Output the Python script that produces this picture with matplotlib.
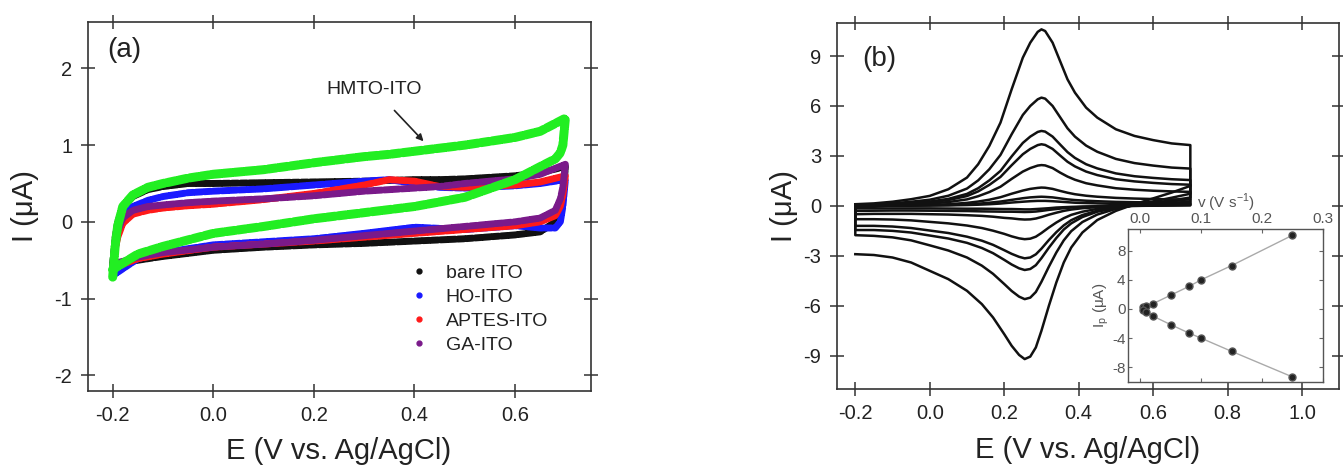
import numpy as np
import matplotlib.pyplot as plt
from matplotlib.lines import Line2D

plt.rcParams['font.family'] = ['Liberation Sans', 'DejaVu Sans']

# ---- panel (a): background CVs of the modified electrodes ----
E_up = [-0.20, -0.195, -0.19, -0.18, -0.16, -0.13, -0.10, -0.05, 0.00, 0.10,
        0.20, 0.30, 0.35, 0.40, 0.45, 0.50, 0.60, 0.65, 0.70]
E_dn = [0.70, 0.695, 0.69, 0.68, 0.65, 0.60, 0.50, 0.40, 0.30, 0.20, 0.10,
        0.00, -0.10, -0.15, -0.20]

bare_up = [-0.55, -0.2, 0.0, 0.18, 0.33, 0.42, 0.46, 0.5, 0.5, 0.51, 0.52, 0.53,
           0.54, 0.55, 0.55, 0.56, 0.6, 0.64, 0.72]
bare_dn = [0.72, 0.3, 0.1, 0.0, -0.13, -0.17, -0.22, -0.25, -0.28, -0.3, -0.33,
           -0.37, -0.45, -0.5, -0.55]
ho_up = [-0.7, -0.35, -0.15, 0.05, 0.2, 0.28, 0.33, 0.38, 0.4, 0.43, 0.48, 0.53,
         0.55, 0.5, 0.45, 0.44, 0.47, 0.5, 0.55]
ho_dn = [0.55, 0.2, 0.0, -0.08, -0.08, -0.05, -0.1, -0.07, -0.15, -0.22, -0.26,
         -0.3, -0.4, -0.48, -0.7]
aptes_up = [-0.6, -0.35, -0.2, -0.02, 0.1, 0.15, 0.18, 0.21, 0.23, 0.29, 0.37,
            0.48, 0.55, 0.53, 0.46, 0.45, 0.48, 0.52, 0.6]
aptes_dn = [0.6, 0.35, 0.2, 0.08, 0.0, -0.05, -0.1, -0.15, -0.2, -0.25, -0.29,
            -0.33, -0.42, -0.48, -0.6]
ga_up = [-0.55, -0.3, -0.12, 0.05, 0.15, 0.2, 0.22, 0.25, 0.27, 0.3, 0.34, 0.4,
         0.42, 0.44, 0.46, 0.5, 0.56, 0.62, 0.75]
ga_dn = [0.75, 0.45, 0.3, 0.15, 0.05, 0.0, -0.06, -0.12, -0.18, -0.24, -0.29,
         -0.33, -0.4, -0.46, -0.55]
hmto_up = [-0.72, -0.3, -0.05, 0.2, 0.35, 0.45, 0.5, 0.57, 0.62, 0.68, 0.77,
           0.85, 0.88, 0.92, 0.96, 1.0, 1.1, 1.18, 1.35]
hmto_dn = [1.35, 1.0, 0.9, 0.82, 0.72, 0.55, 0.32, 0.2, 0.12, 0.04, -0.06,
           -0.15, -0.32, -0.42, -0.62]

labels_a = ['bare ITO', 'HO-ITO', 'APTES-ITO', 'GA-ITO']
colors_a = ['#111111', '#1a1aff', '#ff1a1a', '#7a1a8a']
hmto_color = '#22ee22'

# ---- panel (b): CVs at increasing scan rate ----
E_f = [-0.20, -0.15, -0.10, -0.05, 0.00, 0.05, 0.10, 0.13, 0.16, 0.19, 0.22,
       0.25, 0.27, 0.29, 0.30, 0.31, 0.33, 0.35, 0.37, 0.39, 0.42, 0.45, 0.50,
       0.55, 0.60, 0.65, 0.70]
E_r = [-0.20, -0.15, -0.10, -0.05, 0.00, 0.05, 0.10, 0.14, 0.17, 0.20, 0.22,
       0.24, 0.255, 0.27, 0.285, 0.30, 0.32, 0.34, 0.36, 0.38, 0.41, 0.45, 0.50,
       0.55, 0.60, 0.65, 0.70]

# anodic (forward) branches, fastest scan first
I_f = [
    [0.1, 0.15, 0.25, 0.4, 0.6, 1.0, 1.7, 2.5, 3.6, 5.0, 7.0, 8.9, 9.8, 10.45,
     10.6, 10.5, 9.8, 8.7, 7.6, 6.8, 5.9, 5.3, 4.6, 4.2, 3.95, 3.75, 3.65],
    [0.06, 0.09, 0.15, 0.25, 0.37, 0.61, 1.04, 1.53, 2.2, 3.06, 4.3, 5.46, 6.0,
     6.4, 6.5, 6.44, 6.0, 5.33, 4.66, 4.16, 3.62, 3.25, 2.82, 2.57, 2.42, 2.3,
     2.24],
    [0.05, 0.06, 0.11, 0.17, 0.26, 0.42, 0.72, 1.06, 1.53, 2.1, 2.97, 3.78, 4.16,
     4.44, 4.5, 4.46, 4.16, 3.69, 3.23, 2.88, 2.5, 2.25, 1.95, 1.78, 1.68, 1.6,
     1.55],
    [0.04, 0.05, 0.09, 0.14, 0.21, 0.35, 0.59, 0.87, 1.26, 1.74, 2.44, 3.1, 3.42,
     3.65, 3.7, 3.66, 3.42, 3.03, 2.65, 2.37, 2.06, 1.85, 1.6, 1.47, 1.38, 1.31,
     1.27],
    [0.02, 0.03, 0.06, 0.09, 0.14, 0.23, 0.39, 0.58, 0.83, 1.15, 1.62, 2.06, 2.27,
     2.42, 2.45, 2.43, 2.27, 2.0, 1.76, 1.57, 1.36, 1.23, 1.06, 0.97, 0.91, 0.87,
     0.84],
    [0.01, 0.02, 0.03, 0.04, 0.06, 0.1, 0.18, 0.26, 0.37, 0.52, 0.73, 0.92, 1.02,
     1.08, 1.1, 1.09, 1.02, 0.9, 0.79, 0.7, 0.61, 0.55, 0.48, 0.44, 0.41, 0.39,
     0.38],
    [0.0, 0.01, 0.01, 0.02, 0.03, 0.05, 0.09, 0.13, 0.19, 0.26, 0.36, 0.46, 0.51,
     0.54, 0.55, 0.54, 0.51, 0.45, 0.39, 0.35, 0.31, 0.28, 0.24, 0.22, 0.21, 0.2,
     0.19],
    [0.0, 0.0, 0.01, 0.01, 0.02, 0.03, 0.05, 0.07, 0.1, 0.14, 0.2, 0.25, 0.28,
     0.3, 0.3, 0.3, 0.28, 0.25, 0.22, 0.19, 0.17, 0.15, 0.13, 0.12, 0.11, 0.11,
     0.1],
]
# cathodic (reverse) branches, listed from -0.2 V upwards
I_r = [
    [-2.9, -2.95, -3.1, -3.4, -3.9, -4.4, -5.1, -5.9, -6.7, -7.7, -8.4, -8.95,
     -9.2, -9.05, -8.5, -7.5, -6.0, -4.6, -3.4, -2.5, -1.6, -0.85, -0.3, 0.1,
     0.45, 0.8, 1.2],
    [-1.76, -1.8, -1.89, -2.07, -2.37, -2.68, -3.1, -3.59, -4.08, -4.69, -5.11,
     -5.45, -5.6, -5.51, -5.17, -4.56, -3.65, -2.8, -2.07, -1.52, -0.97, -0.52,
     -0.18, 0.06, 0.27, 0.49, 0.73],
    [-1.45, -1.45, -1.5, -1.6, -1.78, -1.96, -2.22, -2.53, -2.84, -3.24, -3.52,
     -3.75, -3.85, -3.79, -3.56, -3.14, -2.51, -1.93, -1.42, -1.05, -0.67, -0.35,
     -0.13, 0.04, 0.19, 0.33, 0.5],
    [-1.2, -1.2, -1.24, -1.33, -1.48, -1.63, -1.85, -2.09, -2.34, -2.66, -2.88,
     -3.06, -3.15, -3.1, -2.91, -2.57, -2.05, -1.58, -1.17, -0.86, -0.55, -0.29,
     -0.1, 0.03, 0.15, 0.27, 0.41],
    [-0.8, -0.8, -0.82, -0.87, -0.96, -1.05, -1.18, -1.33, -1.49, -1.68, -1.83,
     -1.95, -2.0, -1.97, -1.85, -1.63, -1.3, -1.0, -0.74, -0.54, -0.35, -0.18,
     -0.07, 0.02, 0.1, 0.17, 0.26],
    [-0.5, -0.48, -0.48, -0.48, -0.5, -0.52, -0.56, -0.6, -0.65, -0.72, -0.75,
     -0.8, -0.82, -0.81, -0.76, -0.67, -0.53, -0.41, -0.3, -0.22, -0.14, -0.08,
     -0.03, 0.01, 0.04, 0.07, 0.11],
    [-0.3, -0.29, -0.28, -0.28, -0.29, -0.3, -0.31, -0.33, -0.34, -0.35, -0.35,
     -0.36, -0.37, -0.36, -0.34, -0.3, -0.24, -0.19, -0.14, -0.1, -0.06, -0.03,
     -0.01, 0.0, 0.02, 0.03, 0.05],
    [-0.15, -0.15, -0.15, -0.15, -0.15, -0.16, -0.17, -0.17, -0.18, -0.19, -0.19,
     -0.2, -0.21, -0.21, -0.19, -0.17, -0.14, -0.1, -0.08, -0.06, -0.04, -0.02,
     -0.01, 0.0, 0.01, 0.02, 0.03],
]

# inset: peak currents vs scan rate
scan_rate = [0.005, 0.01, 0.02, 0.05, 0.08, 0.10, 0.15, 0.25]
ipa = [0.3, 0.45, 0.7, 1.9, 3.1, 4.0, 5.95, 10.1]
ipc = [-0.2, -0.35, -0.95, -2.15, -3.3, -4.0, -5.8, -9.3]

text_col = '#222222'
frame_col = '#333333'


def style_axes(ax):
    for sp in ax.spines.values():
        sp.set_color(frame_col)
        sp.set_linewidth(1.2)
    ax.tick_params(which='major', direction='inout', length=10, width=1.1,
                   top=True, right=True, labelsize=14.5, colors=frame_col,
                   labelcolor=text_col, pad=6)


fig = plt.figure(figsize=(13.43, 4.66), dpi=100)

# panel (a)
ax1 = fig.add_axes([0.0652, 0.1616, 0.3745, 0.7905])
ups = [bare_up, ho_up, aptes_up, ga_up]
dns = [bare_dn, ho_dn, aptes_dn, ga_dn]
for up, dn, c in zip(ups, dns, colors_a):
    ax1.plot(E_up + E_dn, up + dn, color=c, lw=5, ls=(0, (0.9, 0.35)),
             dash_capstyle='round')
ax1.plot(E_up + E_dn, hmto_up + hmto_dn, color=hmto_color, lw=6.5,
         ls=(0, (0.9, 0.35)), dash_capstyle='round')
ax1.set_xlim(-0.25, 0.75)
ax1.set_ylim(-2.2, 2.6)
ax1.set_xticks([-0.2, 0.0, 0.2, 0.4, 0.6])
ax1.set_xticklabels(['-0.2', '0.0', '0.2', '0.4', '0.6'])
ax1.set_yticks([-2, -1, 0, 1, 2])
ax1.set_yticklabels(['-2', '-1', '0', '1', '2'])
style_axes(ax1)
ax1.set_xlabel('E (V vs. Ag/AgCl)', fontsize=21, color=text_col, labelpad=9)
ax1.set_ylabel('I (μA)', fontsize=21, color=text_col, labelpad=11)
ax1.text(0.04, 0.925, '(a)', transform=ax1.transAxes, fontsize=20,
         color=text_col, va='center')
ax1.annotate('HMTO-ITO', xy=(0.418, 1.05), xytext=(0.32, 1.73),
             fontsize=14, color=text_col, ha='center', va='center',
             arrowprops=dict(arrowstyle='-|>', color=text_col, lw=1.2,
                             shrinkA=10, shrinkB=0, mutation_scale=10))
handles = [Line2D([], [], marker='o', ls='none', ms=3.5, color=c)
           for c in colors_a]
ax1.legend(handles, labels_a, loc='upper left', bbox_to_anchor=(0.6, 0.39),
           frameon=False, fontsize=14, handletextpad=0.8, labelspacing=0.33,
           labelcolor=text_col, handlelength=1.2)

# panel (b)
ax2 = fig.add_axes([0.623, 0.1651, 0.3742, 0.7862])
for k, (f, r) in enumerate(zip(I_f, I_r)):
    xs = E_f + E_r[::-1]
    ys = f + r[::-1]
    if k > 0:
        # slower scans continue straight into the next forward sweep
        xs = xs + [E_f[0]]
        ys = ys + [f[0]]
    ax2.plot(xs, ys, color='#111111', lw=1.8)
ax2.set_xlim(-0.25, 1.1)
ax2.set_ylim(-11, 11)
ax2.set_xticks([-0.2, 0.0, 0.2, 0.4, 0.6, 0.8, 1.0])
ax2.set_xticklabels(['-0.2', '0.0', '0.2', '0.4', '0.6', '0.8', '1.0'])
ax2.set_yticks([-9, -6, -3, 0, 3, 6, 9])
ax2.set_yticklabels(['-9', '-6', '-3', '0', '3', '6', '9'])
style_axes(ax2)
ax2.set_xlabel('E (V vs. Ag/AgCl)', fontsize=21, color=text_col, labelpad=9)
ax2.set_ylabel('I (μA)', fontsize=21, color=text_col, labelpad=4)
ax2.text(0.05, 0.9, '(b)', transform=ax2.transAxes, fontsize=20,
         color=text_col, va='center')

# inset
ax3 = fig.add_axes([0.8401, 0.1803, 0.1448, 0.3289])
ax3.plot(scan_rate, ipa, color='#aaaaaa', lw=1.0, zorder=1)
ax3.plot(scan_rate, ipc, color='#aaaaaa', lw=1.0, zorder=1)
ax3.plot(scan_rate, ipa, 'o', ms=5, color='#222222', mec='#555555', zorder=2)
ax3.plot(scan_rate, ipc, 'o', ms=5, color='#222222', mec='#555555', zorder=2)
ax3.set_xlim(-0.02, 0.297)
ax3.set_ylim(-10, 11)
ax3.set_xticks([0.0, 0.1, 0.2, 0.3])
ax3.set_xticklabels(['0.0', '0.1', '0.2', '0.3'])
ax3.set_yticks([-8, -4, 0, 4, 8])
ax3.set_yticklabels(['-8', '-4', '0', '4', '8'])
for sp in ax3.spines.values():
    sp.set_color('#555555')
    sp.set_linewidth(1.0)
ax3.xaxis.tick_top()
ax3.xaxis.set_label_position('top')
ax3.tick_params(direction='in', length=3, width=0.8, top=True, bottom=True,
                left=True, right=True, labelsize=11, colors='#666666',
                labelcolor='#555555', pad=2)
ax3.set_xlabel(r'v (V s$^{\mathregular{-1}}$)', fontsize=11, color='#555555',
               labelpad=3)
ax3.set_ylabel(r'I$_\mathregular{p}$ (μA)', fontsize=11, color='#555555',
               labelpad=1)

fig.savefig('out.png', dpi=100)
